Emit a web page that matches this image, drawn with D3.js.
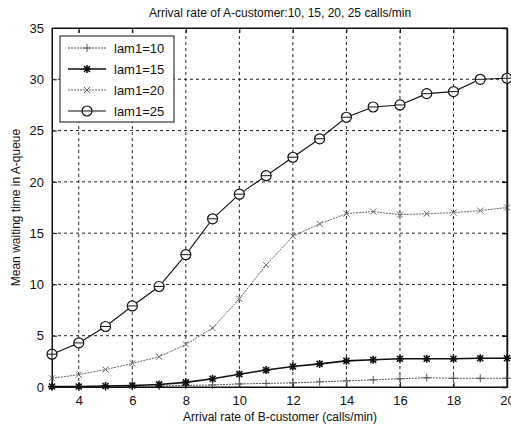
<!DOCTYPE html>
<html>
<head>
<meta charset="utf-8">
<script src="https://cdn.jsdelivr.net/npm/d3@7"></script>
<style>
  body { margin: 0; background: #fff; }
  text { font-family: "Liberation Sans", Arial, sans-serif; fill: #111; }
</style>
</head>
<body>
<script>
// data
var xValues = [3,4,5,6,7,8,9,10,11,12,13,14,15,16,17,18,19,20];
var lam10 = [0,0,0,0.05,0.1,0.15,0.2,0.3,0.35,0.4,0.5,0.6,0.7,0.8,0.9,0.85,0.85,0.85];
var lam15 = [0.05,0.05,0.1,0.15,0.25,0.45,0.8,1.25,1.65,2.0,2.25,2.55,2.65,2.75,2.75,2.75,2.8,2.8];
var lam20 = [0.85,1.2,1.7,2.3,2.95,4.15,5.75,8.6,11.9,14.7,15.9,16.9,17.1,16.8,16.9,17.0,17.2,17.5];
var lam25 = [3.2,4.3,5.9,7.9,9.8,12.9,16.4,18.8,20.6,22.4,24.2,26.3,27.3,27.5,28.6,28.8,30.0,30.1];
var seriesNames = ["lam1=10","lam1=15","lam1=20","lam1=25"];
var xTicks = [4,6,8,10,12,14,16,18,20];
var yTicks = [0,5,10,15,20,25,30,35];

var width = 511, height = 428;
var margin = {left:52, right:4, top:28, bottom:41};

var svg = d3.select("body").append("svg")
    .attr("width", width)
    .attr("height", height);

var x = d3.scaleLinear().domain([3,20]).range([margin.left, width - margin.right]);
var y = d3.scaleLinear().domain([0,35]).range([height - margin.bottom, margin.top]);

//grid lines
var grid = svg.append("g");
grid.selectAll("line.vx").data(xTicks.slice(0,-1)).enter().append("line")
    .attr("x1", d => x(d)).attr("x2", d => x(d))
    .attr("y1", y(0)).attr("y2", y(35))
    .attr("stroke","#222").attr("stroke-width",1).attr("stroke-dasharray","3,3");
grid.selectAll("line.hy").data(yTicks.slice(1,-1)).enter().append("line")
    .attr("x1", x(3)).attr("x2", x(20))
    .attr("y1", d => y(d)).attr("y2", d => y(d))
    .attr("stroke","#222").attr("stroke-width",1).attr("stroke-dasharray","3,3");

//axes
var xAxis = d3.axisBottom(x).tickValues(xTicks).tickSizeInner(-5).tickSizeOuter(0).tickPadding(9);
var yAxis = d3.axisLeft(y).tickValues(yTicks).tickSizeInner(-5).tickSizeOuter(0).tickPadding(8);
var gx = svg.append("g").attr("transform","translate(0,"+y(0)+")").call(xAxis);
var gy = svg.append("g").attr("transform","translate("+x(3)+",0)").call(yAxis);
[gx, gy].forEach(function(g){
  g.selectAll("text").attr("font-size","13px").attr("font-family","Liberation Sans, Arial, sans-serif").attr("fill","#111");
  g.selectAll("line").attr("stroke","#111");
  g.select(".domain").attr("stroke","#111");
});
//top and right ticks
svg.append("g").attr("transform","translate(0,"+y(35)+")")
  .call(d3.axisTop(x).tickValues(xTicks).tickSizeInner(-5).tickSizeOuter(0).tickFormat(""))
  .selectAll("line,path").attr("stroke","#111");
svg.append("g").attr("transform","translate("+x(20)+",0)")
  .call(d3.axisRight(y).tickValues(yTicks).tickSizeInner(-5).tickSizeOuter(0).tickFormat(""))
  .selectAll("line,path").attr("stroke","#111").attr("stroke-width",1.5);

//series
var styles = [
  {data:lam10, color:"#555", w:1, dash:"2,1", marker:"plus"},
  {data:lam15, color:"#111", w:1.6, dash:null, marker:"star"},
  {data:lam20, color:"#666", w:1, dash:"2,1", marker:"cross"},
  {data:lam25, color:"#111", w:1.1, dash:null, marker:"circle"}
];

var line = d3.line().x(d => x(d.x)).y(d => y(d.y));

function drawMarker(g, type, color) {
  if (type == "circle") {
    g.append("circle").attr("r",5).attr("fill","#fff").attr("stroke",color).attr("stroke-width",1.2);
    g.append("line").attr("x1",-5).attr("x2",5).attr("stroke",color);
  } else if (type == "plus") {
    g.append("path").attr("d","M-4,0H4M0,-4V4").attr("stroke",color).attr("stroke-width",1);
  } else if (type == "cross") {
    g.append("path").attr("d","M-3,-3L3,3M-3,3L3,-3").attr("stroke",color).attr("stroke-width",1);
  } else if (type == "star") {
    g.append("path").attr("d","M-4,0H4M0,-4V4M-3,-3L3,3M-3,3L3,-3").attr("stroke",color).attr("stroke-width",1.6);
  }
}

styles.forEach(function(s){
  var pts = xValues.map((v,i) => ({x:v, y:s.data[i]}));
  svg.append("path")
    .attr("fill","none")
    .attr("stroke", s.color)
    .attr("stroke-width", s.w)
    .attr("stroke-dasharray", s.dash)
    .attr("d", line(pts));
  svg.selectAll(null).data(pts).enter().append("g")
    .attr("transform", d => "translate("+x(d.x)+","+y(d.y)+")")
    .each(function(){ drawMarker(d3.select(this), s.marker, s.color); });
});

//axis frame
svg.append("rect")
  .attr("x", x(3)).attr("y", y(35))
  .attr("width", x(20)-x(3)).attr("height", y(0)-y(35))
  .attr("fill","none").attr("stroke","#111").attr("stroke-width",1);

//legend
var legend = svg.append("g").attr("transform","translate(60,36)");
legend.append("rect").attr("width",114).attr("height",86)
  .attr("fill","#fff").attr("stroke","#111").attr("stroke-width",1);
styles.forEach(function(s,i){
  var ly = 12 + i*21;
  legend.append("line").attr("x1",8).attr("x2",46).attr("y1",ly).attr("y2",ly)
    .attr("stroke",s.color).attr("stroke-width",s.w).attr("stroke-dasharray",s.dash);
  drawMarker(legend.append("g").attr("transform","translate(27,"+ly+")"), s.marker, s.color);
  legend.append("text").attr("x",54).attr("y",ly+5).attr("font-size","13px").text(seriesNames[i]);
});

//titles
svg.append("text").attr("x", 280).attr("y", 17).attr("text-anchor","middle")
  .attr("font-size","12px").text("Arrival rate of A-customer:10, 15, 20, 25 calls/min");
svg.append("text").attr("x", 280).attr("y", 421).attr("text-anchor","middle")
  .attr("font-size","12px").text("Arrival rate of B-customer (calls/min)");
svg.append("text").attr("transform","translate(20,"+((y(0)+y(35))/2)+") rotate(-90)")
  .attr("text-anchor","middle").attr("font-size","12px").text("Mean waiting time in A-queue");
</script>
</body>
</html>
